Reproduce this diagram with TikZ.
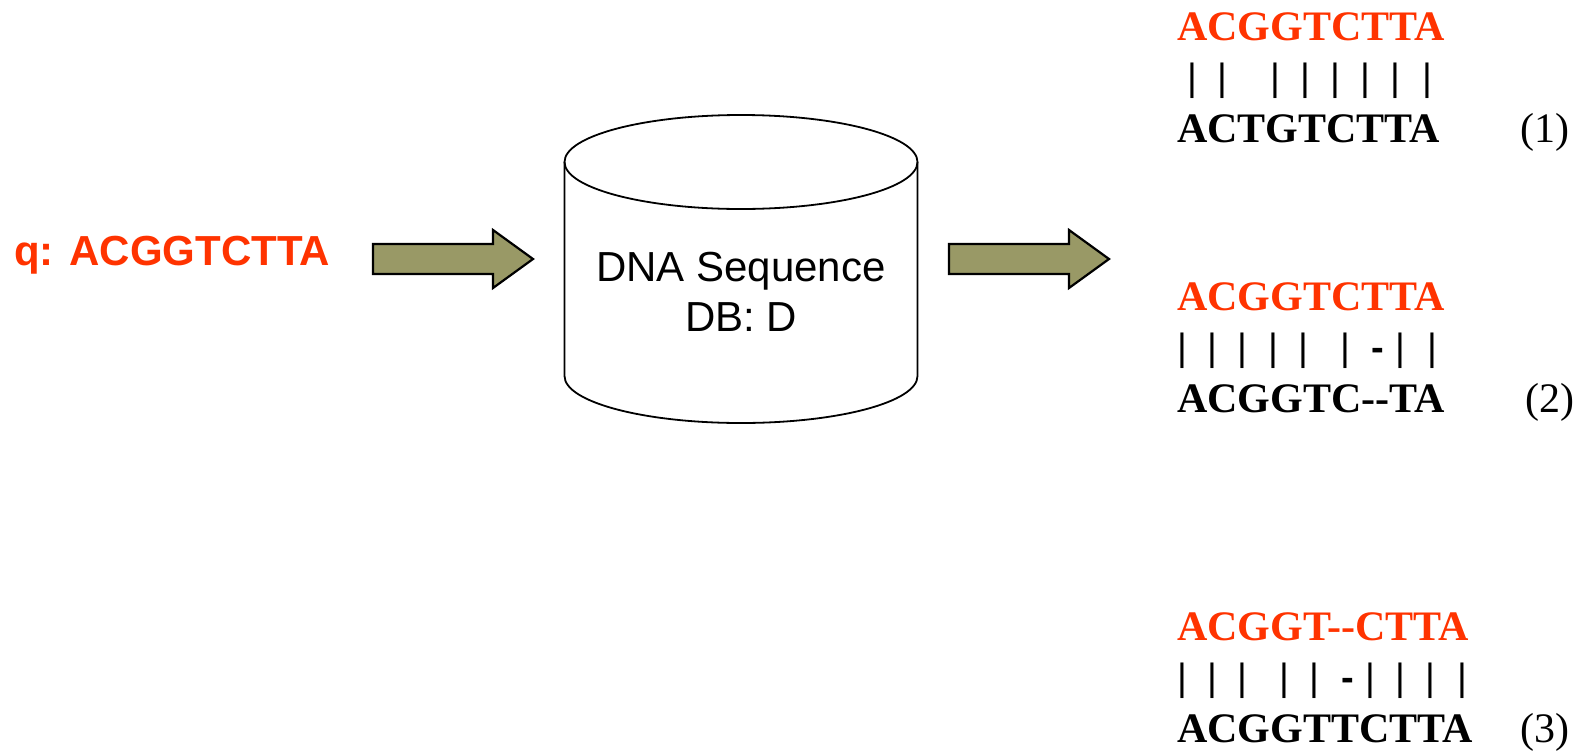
\documentclass[tikz,border=0pt]{standalone}
\usepackage{fontspec}
\newfontfamily\arialf{Liberation Sans}
\newfontfamily\timesf{Liberation Serif}
\definecolor{seqred}{RGB}{255,51,0}
\definecolor{olivefill}{RGB}{153,153,102}
\newcommand\bk[1]{\rlap{\hspace{#1pt}\makebox[0pt]{|}}}
\newcommand\dk[1]{\rlap{\hspace{#1pt}\makebox[0pt]{\bfseries -}}}
\tikzset{
  seqtxt/.style={anchor=base west, inner sep=0pt, font=\timesf\bfseries\fontsize{42}{42}\selectfont},
  qseq/.style={seqtxt, text=seqred},
  dseq/.style={seqtxt, text=black},
  barline/.style={anchor=base west, inner sep=0pt, font=\arialf\fontsize{38}{38}\selectfont},
  numtxt/.style={anchor=base west, inner sep=0pt, font=\timesf\fontsize{42}{42}\selectfont},
  dbtxt/.style={anchor=base, inner sep=0pt, font=\arialf\fontsize{42}{42}\selectfont},
  blockarrow/.style={draw=black, line width=2.2pt, fill=olivefill, line join=miter},
  cyl/.style={draw=black, line width=1.8pt}
}
\begin{document}
\begin{tikzpicture}[x=1pt,y=-1pt]
\useasboundingbox (0,0) rectangle (1584,750);
% query
\node[anchor=base west, inner sep=0pt, text=seqred, font=\arialf\bfseries\fontsize{42}{42}\selectfont] (q) at (14,265) {q: ACGGTCTTA};
% arrows
\draw[blockarrow] (373,244) -- (493,244) -- (493,230) -- (533,259) -- (493,288) -- (493,274) -- (373,274) -- cycle;
\draw[blockarrow] (949,244) -- (1069,244) -- (1069,230) -- (1109,259) -- (1069,288) -- (1069,274) -- (949,274) -- cycle;
% cylinder
\draw[cyl] (741,162) ellipse [x radius=176.5, y radius=47];
\draw[cyl] (564.5,162) -- (564.5,376) arc[start angle=180, end angle=0, x radius=176.5, y radius=47] -- (917.5,162);
\node[dbtxt] (db1) at (741,281) {DNA Sequence};
\node[dbtxt] (db2) at (741,331) {DB: D};
% alignment 1
\node[qseq] (a1q) at (1177,40) {ACGGTCTTA};
\node[barline] (a1b) at (1177,90) {\bk{15}\bk{45}\bk{98}\bk{128}\bk{158}\bk{188}\bk{218}\bk{250}};
\node[dseq] (a1d) at (1177,142) {ACTGTCTTA};
\node[numtxt] (n1) at (1520,142) {(1)};
% alignment 2
\node[qseq] (a2q) at (1177,310) {ACGGTCTTA};
\node[barline] (a2b) at (1177,360) {\bk{5}\bk{35}\bk{65}\bk{96}\bk{126}\bk{168}\dk{200.5}\bk{223}\bk{255}};
\node[dseq] (a2d) at (1177,412) {ACGGTC--TA};
\node[numtxt] (n2) at (1525,412) {(2)};
% alignment 3
\node[qseq] (a3q) at (1177,640) {ACGGT--CTTA};
\node[barline] (a3b) at (1177,690) {\bk{5}\bk{35}\bk{65}\bk{106.7}\bk{136.7}\dk{170.5}\bk{193}\bk{223}\bk{253}\bk{284.7}};
\node[dseq] (a3d) at (1177,742) {ACGGTTCTTA};
\node[numtxt] (n3) at (1520,742) {(3)};
\end{tikzpicture}
\end{document}
